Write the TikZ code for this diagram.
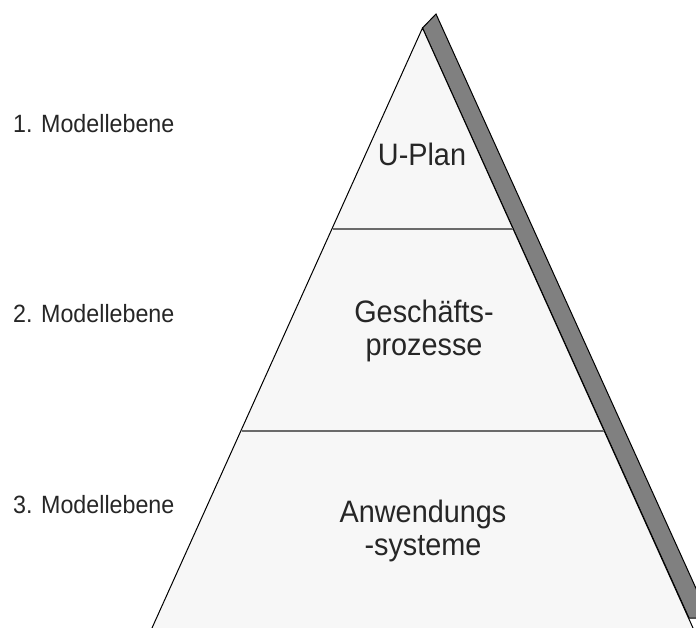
\documentclass[tikz,border=0pt]{standalone}
\usepackage{fontspec}
\setmainfont{Liberation Sans}[FakeStretch=0.93]
\usetikzlibrary{calc}
\begin{document}
\begin{tikzpicture}[x=1pt,y=-1pt,
  face/.style={fill=pyrfill,draw=black,line width=1pt,line join=miter},
  side/.style={fill=pyrside,draw=black,line width=1pt,line join=miter},
  divider/.style={draw=divgray,line width=1.8pt},
  level/.style={anchor=base west,text=black!85,font=\fontsize{25}{30}\selectfont,inner sep=0pt},
  inlabel/.style={anchor=base,align=center,text=black!85,font=\fontsize{31}{33}\selectfont,inner sep=0pt}]
  \definecolor{pyrfill}{HTML}{F7F7F7}
  \definecolor{pyrside}{HTML}{808080}
  \definecolor{divgray}{HTML}{6A6A6A}
  \useasboundingbox (0,0) rectangle (696,628);
  \clip (0,0) rectangle (696,628);
  % corner points of the pyramid and its side face
  \coordinate (apex) at (422.5,28);
  \coordinate (bl) at (152,628);
  \coordinate (br) at (693,628);
  \coordinate (sapex) at (436,14);
  \coordinate (sbot) at (709.4,618);
  \coordinate (sin) at (689,618);
  % side face
  \draw[side] (apex) -- (sapex) -- (sbot) -- (sin) -- cycle;
  % front face, running past the lower edge
  \draw[face] (apex) -- ($(apex)!1.03!(bl)$) -- ($(apex)!1.03!(br)$) -- cycle;
  % level dividers
  \coordinate (d1l) at (332.5,229);
  \coordinate (d1r) at (512.6,229);
  \coordinate (d2l) at (241.5,431);
  \coordinate (d2r) at (603.5,431);
  \draw[divider] (d1l) -- (d1r);
  \draw[divider] (d2l) -- (d2r);
  % labels (two-line labels are placed by the baseline of their last line)
  \node[level] (m1) at (13,133) {1. Modellebene};
  \node[level] (m2) at (13,323) {2. Modellebene};
  \node[level] (m3) at (13,513) {3. Modellebene};
  \node[inlabel] (l1) at (422,166) {U-Plan};
  \node[inlabel] (l2) at (424,355.5) {Geschäfts-\\prozesse};
  \node[inlabel] (l3) at (423,555) {Anwendungs\\-systeme};
\end{tikzpicture}
\end{document}
